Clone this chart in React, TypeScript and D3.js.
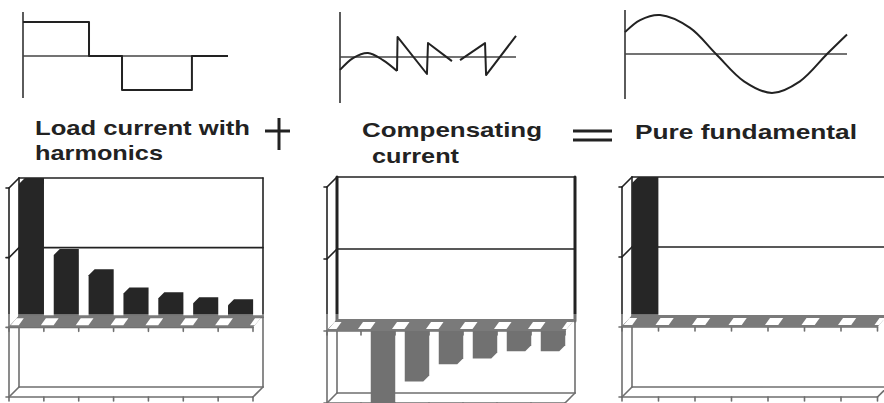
import React from "react";
import * as d3 from "d3";

// ---------- data ----------
const harmonicOrders = [1, 5, 7, 11, 13, 17, 19];
const loadCurrent = [1.0, 0.49, 0.345, 0.215, 0.18, 0.145, 0.13];
const compensatingCurrent = [0, -0.62, -0.42, -0.3, -0.26, -0.21, -0.21];
const fundamentalCurrent = [1.0, 0, 0, 0, 0, 0, 0];
const yTicks = [-0.5, 0, 0.5, 1.0];

// waveforms: [t (0..1 of one period window), value (normalised)]
const squareWave: [number, number][] = [
  [0, 1], [0.322, 1], [0.322, 0], [0.483, 0], [0.483, -1], [0.824, -1], [0.824, 0], [1, 0],
];
const compSmooth: [number, number][] = [
  [0, -0.38], [0.074, -0.03], [0.159, 0.12], [0.244, -0.09], [0.324, -0.41],
];
const compJagged1: [number, number][] = [
  [0.324, -0.41], [0.327, 0.59], [0.494, -0.5], [0.5, 0.41], [0.636, -0.12],
];
const compJagged2: [number, number][] = [
  [0.682, -0.09], [0.824, 0.41], [0.83, -0.53], [1, 0.62],
];
const sineWave: [number, number][] = [
  [0, 0.56], [0.068, 0.87], [0.158, 1.0], [0.293, 0.67], [0.41, 0], [0.536, -0.7],
  [0.662, -1.0], [0.788, -0.7], [0.91, 0], [1, 0.5],
];

const titleLines = [
  ["Load current with", "harmonics"],
  ["Compensating", "current"],
  ["Pure fundamental"],
];

// ---------- layout ----------
const W = 884;
const H = 403;
const INK = "#222";

const wavePanels = [
  { x0: 23, x1: 228, top: 12, bot: 98, zero: 56, amp: 34, segs: [{ d: squareWave, smooth: false }] },
  {
    x0: 340, x1: 516, top: 12, bot: 103, zero: 57, amp: 34,
    segs: [{ d: compSmooth, smooth: true }, { d: compJagged1, smooth: false }, { d: compJagged2, smooth: false }],
  },
  { x0: 625, x1: 847, top: 10, bot: 99, zero: 54, amp: 39, segs: [{ d: sineWave, smooth: true }] },
];

const titlePos = [
  [{ x: 35, y: 135, w: 215 }, { x: 35, y: 160, w: 128 }],
  [{ x: 362, y: 137, w: 180 }, { x: 372, y: 163, w: 87 }],
  [{ x: 635, y: 139, w: 222 }],
];

const barPanels = [
  { id: "p1", values: loadCurrent, x0: 19, x1: 263, yTop: 178, yBot: 387, thick: false },
  { id: "p2", values: compensatingCurrent, x0: 337, x1: 575, yTop: 177, yBot: 393, thick: true },
  { id: "p3", values: fundamentalCurrent, x0: 632, x1: 887.5, yTop: 177, yBot: 387, thick: false },
];

function Wave({ p }: { p: (typeof wavePanels)[number] }) {
  const x = d3.scaleLinear().domain([0, 1]).range([p.x0, p.x1]);
  const y = d3.scaleLinear().domain([-1, 1]).range([p.zero + p.amp, p.zero - p.amp]);
  return (
    <g>
      <line x1={p.x0} x2={p.x0} y1={p.top} y2={p.bot} stroke="#333" strokeWidth={1.6} />
      <line x1={p.x0} x2={p.x1} y1={p.zero} y2={p.zero} stroke="#444" strokeWidth={1.3} />
      {p.segs.map((s, i) => {
        const gen = d3
          .line<[number, number]>()
          .x((d) => x(d[0]))
          .y((d) => y(d[1]))
          .curve(s.smooth ? d3.curveCatmullRom.alpha(0.5) : d3.curveLinear);
        return <path key={i} d={gen(s.d) || ""} fill="none" stroke={INK} strokeWidth={2} strokeLinejoin="round" />;
      })}
    </g>
  );
}

function Bars3D({ cfg }: { cfg: (typeof barPanels)[number] }) {
  const D = 10;
  const { x0, x1, yTop, yBot, values, thick, id } = cfg;
  const x = d3
    .scaleBand<number>()
    .domain(harmonicOrders)
    .range([x0 - D / 2, x1 - D / 2])
    .paddingInner(0.28)
    .paddingOuter(0.14);
  const y = d3.scaleLinear().domain([-0.5, 1]).range([yBot, yTop]);
  const y0 = y(0);
  const step = x.step();
  const bw = x.bandwidth();
  const lines: { a: number[]; w?: number }[] = [];
  yTicks.forEach((t) => {
    lines.push({ a: [x0, y(t), x1, y(t)] });
    lines.push({ a: [x0 - D, y(t) + D, x0, y(t)] });
    lines.push({ a: [x0 - D - 3, y(t) + D, x0 - D, y(t) + D] });
  });
  lines.push({ a: [x0, yTop, x0, y0], w: thick ? 3 : 1.6 });
  lines.push({ a: [x0, y0, x0, yBot] });
  lines.push({ a: [x1, yTop, x1, y0], w: thick ? 3 : 1.6 });
  lines.push({ a: [x1, y0, x1, yBot] });
  lines.push({ a: [x0 - D, yTop + D, x0 - D, yBot + D] });
  lines.push({ a: [x0 - D, yBot + D, x1 - D, yBot + D] });
  lines.push({ a: [x1, yBot, x1 - D, yBot + D] });
  lines.push({ a: [x0 - D, y0 + D, x1 - D, y0 + D] });
  for (let k = 0; k <= harmonicOrders.length; k++) {
    const bx = x0 - D + k * step;
    lines.push({ a: [bx, y0 + D, bx, y0 + D + 4] });
    lines.push({ a: [bx, yBot + D, bx, yBot + D + 4] });
  }
  const c = 6;
  const barPath = (v: number, bx: number) => {
    if (v > 0) {
      const t = y(v);
      const b = y0 + 4;
      return `M${bx},${t + c}L${bx + c},${t}L${bx + bw},${t}L${bx + bw},${b}L${bx},${b}Z`;
    }
    if (v < 0) {
      const t = y0 + 6;
      const b = y(v);
      return `M${bx},${t}L${bx + bw},${t}L${bx + bw},${b - c}L${bx + bw - c},${b}L${bx},${b}Z`;
    }
    return "";
  };
  const band = `M${x0},${y0 - 2}L${x1},${y0 - 2}L${x1 - D},${y0 + D}L${x0 - D},${y0 + D}Z`;
  const g = step - bw + 3;
  return (
    <g>
      <defs>
        <clipPath id={`band-${id}`}>
          <path d={band} />
        </clipPath>
      </defs>
      {lines.map((l, i) => (
        <line
          key={i}
          x1={l.a[0]}
          y1={l.a[1]}
          x2={l.a[2]}
          y2={l.a[3]}
          stroke={INK}
          strokeWidth={l.w ?? 1.6}
          strokeLinecap="round"
        />
      ))}
      {values.map((v, i) => {
        const d = barPath(v, x(harmonicOrders[i]) as number);
        return d ? <path key={i} d={d} fill="#262626" /> : null;
      })}
      <path d={band} fill="#333" />
      <g clipPath={`url(#band-${id})`}>
        {d3.range(harmonicOrders.length + 1).map((k) => {
          const bx = x0 - D + k * step;
          return (
            <path
              key={k}
              d={`M${bx + 2},${y0 + 1}L${bx + 2 + g},${y0 + 1}L${bx - 3 + g},${y0 + 8}L${bx - 3},${y0 + 8}Z`}
              fill="#fff"
            />
          );
        })}
      </g>
    </g>
  );
}

export default function App() {
  return (
    <svg
      width={W}
      height={H}
      viewBox={`0 0 ${W} ${H}`}
      style={{ position: "absolute", left: 0, top: 0, background: "#fff" }}
    >
      <rect x={0} y={0} width={W} height={H} fill="#fff" />
      {wavePanels.map((p, i) => (
        <Wave key={i} p={p} />
      ))}
      {titleLines.map((ls, i) =>
        ls.map((s, j) => (
          <text
            key={`${i}-${j}`}
            x={titlePos[i][j].x}
            y={titlePos[i][j].y}
            textLength={titlePos[i][j].w}
            lengthAdjust="spacingAndGlyphs"
            fontFamily="'Liberation Sans', Arial, sans-serif"
            fontWeight="bold"
            fontSize={21}
            fill={INK}
          >
            {s}
          </text>
        ))
      )}
      {/* plus */}
      <line x1={265} x2={290} y1={131} y2={131} stroke={INK} strokeWidth={3} />
      <line x1={279} x2={279} y1={118} y2={150} stroke={INK} strokeWidth={3} />
      {/* equals */}
      <line x1={573} x2={612} y1={131} y2={131} stroke={INK} strokeWidth={3} />
      <line x1={573} x2={612} y1={140} y2={140} stroke={INK} strokeWidth={3} />
      {barPanels.map((cfg) => (
        <Bars3D key={cfg.id} cfg={cfg} />
      ))}
      {/* washed-out lower part of the scanned figure */}
      <rect x={0} y={314} width={W} height={H - 314} fill="#fff" opacity={0.35} />
    </svg>
  );
}
